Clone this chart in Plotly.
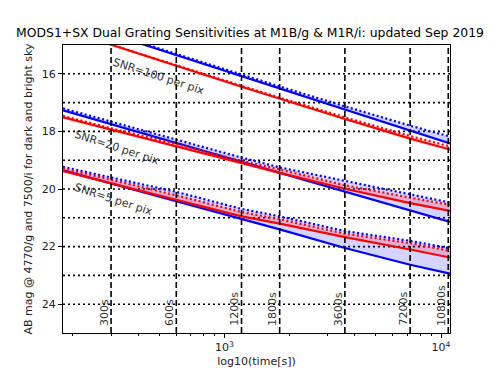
import math
import plotly.graph_objects as go

# exposure times [s]
times = [180, 300, 600, 1200, 1800, 3600, 7200, 11000]

# limiting AB mags (dark sky = solid, bright sky = dotted)
snr100_blue_dark   = [14.08, 14.62, 15.35, 16.08, 16.51, 17.24, 17.97, 18.42]
snr100_blue_bright = [14.07, 14.60, 15.32, 16.03, 16.44, 17.13, 17.80, 18.18]
snr100_red_dark    = [14.45, 15.00, 15.72, 16.45, 16.87, 17.57, 18.25, 18.63]
snr100_red_bright  = [14.44, 14.99, 15.70, 16.42, 16.83, 17.51, 18.16, 18.52]

snr20_blue_dark    = [17.27, 17.75, 18.40, 19.07, 19.45, 20.10, 20.75, 21.14]
snr20_blue_bright  = [17.20, 17.66, 18.30, 18.91, 19.25, 19.72, 20.20, 20.47]
snr20_red_dark     = [17.51, 17.94, 18.51, 19.12, 19.44, 19.99, 20.49, 20.76]
snr20_red_bright   = [17.46, 17.89, 18.44, 19.02, 19.32, 19.87, 20.30, 20.55]

snr5_blue_dark     = [19.35, 19.80, 20.42, 21.03, 21.40, 22.05, 22.63, 22.94]
snr5_blue_bright   = [19.23, 19.60, 20.10, 20.69, 20.95, 21.46, 21.80, 22.06]
snr5_red_dark      = [19.38, 19.80, 20.36, 20.95, 21.20, 21.67, 22.10, 22.38]
snr5_red_bright    = [19.28, 19.68, 20.22, 20.80, 21.05, 21.55, 21.88, 22.15]

exp_marks = [300, 600, 1200, 1800, 3600, 7200, 10800]
exp_labels = ["300s", "600s", "1200s", "1800s", "3600s", "7200s", "10800s"]

snr_labels = ["SNR=100 per pix", "SNR=20 per pix", "SNR=5 per pix"]
snr_label_t = [497, 318, 308]
snr_label_m = [16.1, 18.55, 20.36]

title = "MODS1+SX Dual Grating Sensitivities at M1B/g & M1R/i: updated Sep 2019"

fig = go.Figure()

groups = [
    (snr100_blue_dark, snr100_blue_bright, snr100_red_dark, snr100_red_bright),
    (snr20_blue_dark, snr20_blue_bright, snr20_red_dark, snr20_red_bright),
    (snr5_blue_dark, snr5_blue_bright, snr5_red_dark, snr5_red_bright),
]

for bd, bb, rd, rb in groups:
    for dark, bright, col, fillc in [(bd, bb, "#0000ff", "rgba(0,0,255,0.17)"),
                                     (rd, rb, "#ff0000", "rgba(255,0,0,0.17)")]:
        fig.add_trace(go.Scatter(x=times, y=dark, mode="lines",
                                 line=dict(color=col, width=2.2),
                                 showlegend=False, hoverinfo="skip"))
        fig.add_trace(go.Scatter(x=times, y=bright, mode="lines",
                                 line=dict(color=col, width=2.2, dash="2px,2.5px"),
                                 fill="tonexty", fillcolor=fillc,
                                 showlegend=False, hoverinfo="skip"))

# vertical dashed exposure lines
for t in exp_marks:
    fig.add_shape(type="line", xref="x", yref="paper", x0=t, x1=t, y0=0, y1=1,
                  line=dict(color="black", width=1.6, dash="6px,3px"))

# horizontal dotted grid
for m in range(16, 25):
    fig.add_shape(type="line", xref="paper", yref="y", x0=0, x1=1, y0=m, y1=m,
                  line=dict(color="black", width=1.6, dash="2px,3px"), layer="below")

# exposure labels (annotation x on a log axis is given in log10 units)
for t, lab in zip(exp_marks, exp_labels):
    fig.add_annotation(x=math.log10(t), y=24.82, xref="x", yref="y", text=lab, showarrow=False,
                       textangle=-90, xanchor="right", yanchor="bottom", xshift=2,
                       font=dict(family="DejaVu Sans", size=11, color="#333333"))

# SNR labels
for t, m, lab in zip(snr_label_t, snr_label_m, snr_labels):
    fig.add_annotation(x=math.log10(t), y=m, xref="x", yref="y", text=lab, showarrow=False,
                       textangle=18, xanchor="center", yanchor="middle",
                       font=dict(family="DejaVu Sans", size=11, color="#333333"))

# page body has an 8px default margin: size the figure to fit the 500x375 window
fig.update_layout(
    width=492, height=367,
    margin=dict(l=55, r=50, t=37, b=42),
    paper_bgcolor="white", plot_bgcolor="white",
    font=dict(family="DejaVu Sans", size=11, color="#222222"),
    title=dict(text=title, x=0.4919, xanchor="center", y=0.932, yanchor="middle",
               font=dict(family="DejaVu Sans", size=12.4, color="black")),
    xaxis=dict(type="log", range=[2.2553, 4.0414], automargin=False,
               tickvals=[1000, 10000], ticktext=["10<sup>3</sup>", "10<sup>4</sup>"],
               ticks="outside", ticklen=4, tickcolor="black",
               showgrid=False, zeroline=False,
               showline=True, linecolor="black", linewidth=1, mirror=True,
               minor=dict(tickvals=[200, 300, 400, 500, 600, 700, 800, 900,
                                    2000, 3000, 4000, 5000, 6000, 7000, 8000, 9000],
                          ticks="outside", ticklen=2, tickcolor="black", showgrid=False),
               title=dict(text="log10(time[s])", standoff=4,
                          font=dict(family="DejaVu Sans", size=11, color="#222222")),
               tickfont=dict(family="DejaVu Sans", size=11, color="#222222")),
    yaxis=dict(range=[25, 15], tickvals=[16, 18, 20, 22, 24], automargin=False,
               ticks="outside", ticklen=4, tickcolor="black",
               showgrid=False, zeroline=False,
               showline=True, linecolor="black", linewidth=1, mirror=True,
               title=dict(text="AB mag @ 4770/g and 7500/i for dark and bright sky", standoff=6,
                          font=dict(family="DejaVu Sans", size=11, color="#222222")),
               tickfont=dict(family="DejaVu Sans", size=11, color="#222222")),
)

fig.write_html("out.html")
